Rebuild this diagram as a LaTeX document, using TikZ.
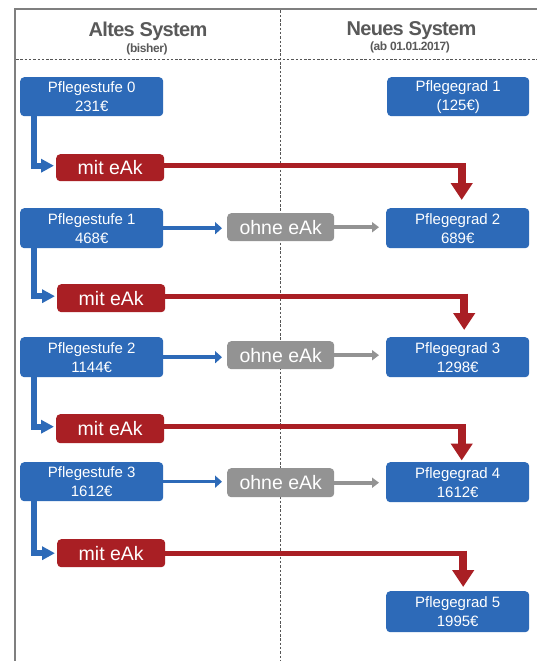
\documentclass[tikz,border=0pt]{standalone}
\usepackage{fontspec}
\setmainfont{Liberation Sans}
\newfontfamily\hfont{Liberation Sans}[LetterSpace=-3.5]
\usetikzlibrary{arrows.meta,calc}
\definecolor{bblue}{HTML}{2D6AB8}
\definecolor{rred}{HTML}{A91F24}
\definecolor{ggray}{HTML}{939393}
\definecolor{htext}{HTML}{595959}
\definecolor{framec}{HTML}{7F7F7F}
\definecolor{dashc}{HTML}{555555}
\begin{document}
\begin{tikzpicture}[x=1pt,y=-1pt,
  boxbase/.style={rounded corners=4pt, text=white, align=center, inner sep=0pt, anchor=north west},
  bluebox/.style={boxbase, fill=bblue, minimum width=143pt, font=\fontsize{15}{19}\selectfont},
  redbox/.style={boxbase, fill=rred, minimum width=108pt, font=\fontsize{19.5}{22}\selectfont},
  graybox/.style={boxbase, fill=ggray, minimum width=107pt, font=\fontsize{19.5}{22}\selectfont},
  htitle/.style={text=htext, inner sep=0pt, anchor=base, font=\hfont\bfseries\fontsize{20}{24}\selectfont},
  hsub/.style={text=htext, inner sep=0pt, anchor=base, font=\hfont\bfseries\fontsize{12}{14}\selectfont},
  framel/.style={draw=framec, line width=2pt},
  dashline/.style={draw=dashc, line width=0.6pt, dash pattern=on 2.5pt off 1.8pt},
  bconn/.style={draw=bblue, line width=6pt, -{Triangle[length=13pt,width=13pt]}, shorten >=2pt},
  bthin/.style={draw=bblue, line width=3.5pt, -{Triangle[length=7pt,width=12pt]}, shorten >=5pt},
  gconn/.style={draw=ggray, line width=4pt, -{Triangle[length=7pt,width=10pt]}, shorten >=7pt},
  redh/.style={draw=rred, line width=5pt},
  redv/.style={draw=rred, line width=8pt, -{Triangle[length=17pt,width=21pt]}}
]
\useasboundingbox (0,0) rectangle (537,661);
\fill[white] (0,0) rectangle (537,661);

% frame and separators
\draw[framel] (15,661) -- (15,9.5) -- (537,9.5);
\draw[dashline] (16,59.7) -- (537,59.7);
\draw[dashline] (280,10.5) -- (280,661);

% headers
\node[htitle] (t1) at (148,37) {Altes System};
\node[hsub] (s1) at (147,52.5) {(bisher)};
\node[htitle] (t2) at (411.5,35.5) {Neues System};
\node[hsub] (s2) at (410,50.5) {(ab 01.01.2017)};

% left boxes
\node[bluebox, minimum height=39pt] (L0) at (20,77) {Pflegestufe 0\\231€};
\node[bluebox, minimum height=40pt] (L1) at (20,208) {Pflegestufe 1\\468€};
\node[bluebox, minimum height=40pt] (L2) at (20,337) {Pflegestufe 2\\1144€};
\node[bluebox, minimum height=39pt] (L3) at (20,462) {Pflegestufe 3\\1612€};

% red boxes
\node[redbox, minimum height=27pt] (R0) at (56,154) {mit eAk};
\node[redbox, minimum height=28pt] (R1) at (57,284) {mit eAk};
\node[redbox, minimum height=29pt] (R2) at (56,414) {mit eAk};
\node[redbox, minimum height=28pt] (R3) at (57,539) {mit eAk};

% gray boxes
\node[graybox, minimum height=28pt] (X1) at (227,213) {ohne eAk};
\node[graybox, minimum height=28pt] (X2) at (227,341) {ohne eAk};
\node[graybox, minimum height=29pt] (X3) at (227,468) {ohne eAk};

% right boxes
\node[bluebox, minimum height=39pt, minimum width=142pt] (G1) at (387,77) {Pflegegrad 1\\(125€)};
\node[bluebox, minimum height=40pt] (G2) at (386,208) {Pflegegrad 2\\689€};
\node[bluebox, minimum height=40pt] (G3) at (386,337) {Pflegegrad 3\\1298€};
\node[bluebox, minimum height=40pt] (G4) at (386,462) {Pflegegrad 4\\1612€};
\node[bluebox, minimum height=41pt] (G5) at (386,591) {Pflegegrad 5\\1995€};

% blue L connectors to "mit eAk"
\draw[bconn] ([xshift=13.5pt]L0.south west) |- ([yshift=2pt]R0.west);
\draw[bconn] ([xshift=13.5pt]L1.south west) |- ([yshift=2pt]R1.west);
\draw[bconn] ([xshift=13.5pt]L2.south west) |- ([yshift=2pt]R2.west);
\draw[bconn] ([xshift=13.5pt]L3.south west) |- ([yshift=0pt]R3.west);

% blue thin arrows to "ohne eAk"
\draw[bthin] (L1.east) -- (L1.east -| X1.west);
\draw[bthin] (L2.east) -- (L2.east -| X2.west);
\draw[bthin] (L3.east) -- (L3.east -| X3.west);

% gray arrows
\draw[gconn] (X1.east) -- (X1.east -| G2.west);
\draw[gconn] (X2.east) -- (X2.east -| G3.west);
\draw[gconn] (X3.east) -- (X3.east -| G4.west);

% red connectors
\path ([yshift=2pt]R0.east) coordinate (h0) ([xshift=4pt]G2.north) coordinate (e0);
\path ([yshift=2pt]R1.east) coordinate (h1) ([xshift=6.5pt]G3.north) coordinate (e1);
\path ([yshift=2pt]R2.east) coordinate (h2) ([xshift=4pt]G4.north) coordinate (e2);
\path ([yshift=0pt]R3.east) coordinate (h3) ([xshift=5.5pt]G5.north) coordinate (e3);

\draw[redh] (h0) -- ($(h0 -| e0)+(4,0)$);
\draw[redv, shorten >=8pt] ($(h0 -| e0)+(0,-2.5)$) -- (e0);
\draw[redh] (h1) -- ($(h1 -| e1)+(4,0)$);
\draw[redv, shorten >=7pt] ($(h1 -| e1)+(0,-2.5)$) -- (e1);
\draw[redh] (h2) -- ($(h2 -| e2)+(4,0)$);
\draw[redv, shorten >=1.5pt] ($(h2 -| e2)+(0,-2.5)$) -- (e2);
\draw[redh] (h3) -- ($(h3 -| e3)+(4,0)$);
\draw[redv, shorten >=4pt] ($(h3 -| e3)+(0,-2.5)$) -- (e3);
\end{tikzpicture}
\end{document}
